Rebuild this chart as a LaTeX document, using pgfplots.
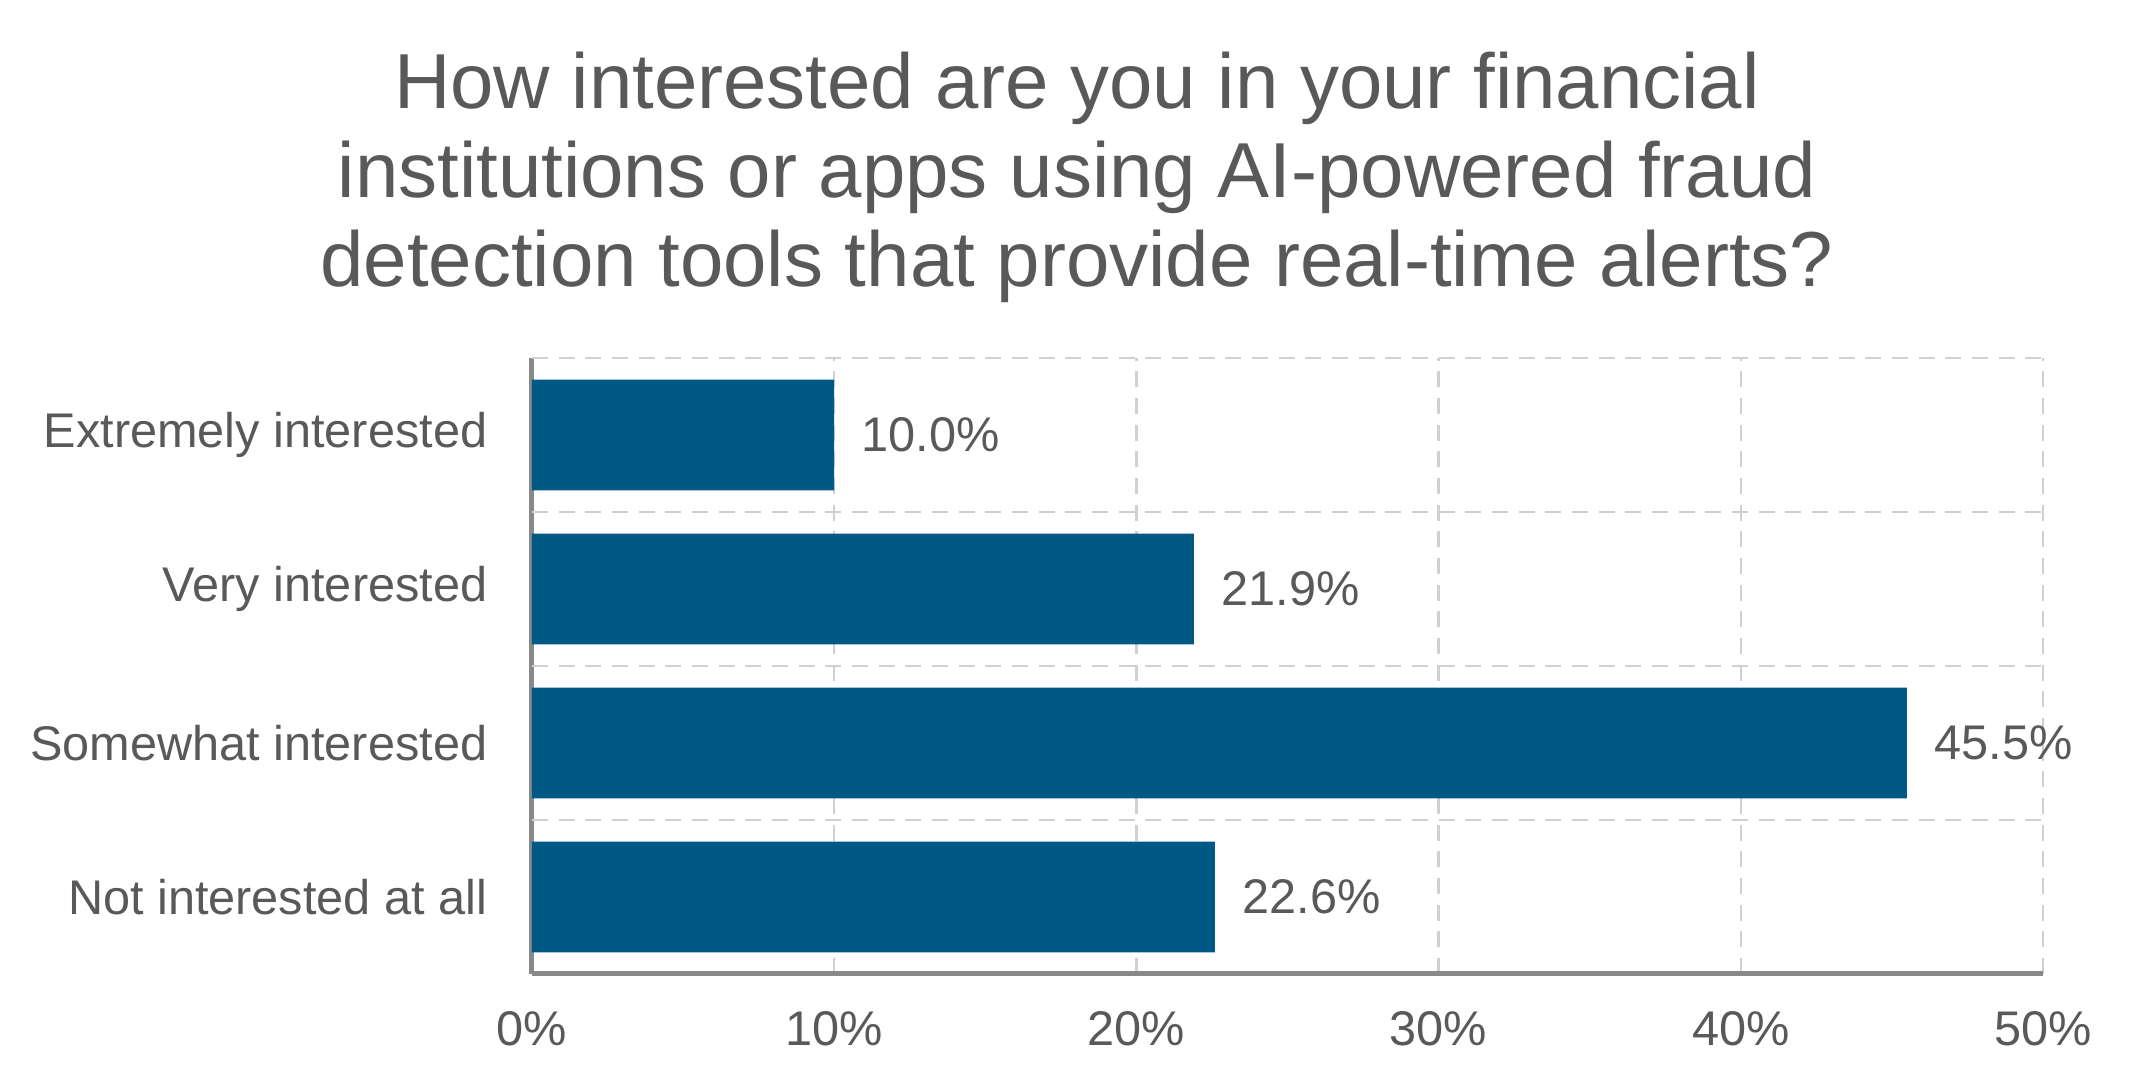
\documentclass[border=0pt]{standalone}
\usepackage{fontspec}
\setmainfont{Liberation Sans}
\usepackage{pgfplots}
\pgfplotsset{compat=1.18}
\definecolor{barblue}{RGB}{0,89,132}
\definecolor{txt}{RGB}{89,89,89}
\definecolor{axgray}{RGB}{137,137,137}
\definecolor{gridgray}{RGB}{208,208,208}
\begin{document}
\begin{tikzpicture}
\path[use as bounding box] (-159.6pt,-34.5pt) rectangle (483.9pt,292.2pt);
\begin{axis}[
  scale only axis, width=453.3pt, height=184.8pt,
  xbar, bar width=0.72,
  xmin=0, xmax=50, ymin=-0.5, ymax=3.5,
  axis x line*=bottom, axis y line*=left,
  xtick={0,10,20,30,40,50},
  xticklabel={\pgfmathprintnumber{\tick}\%},
  major tick length=0,
  ytick={0,1,2,3},
  yticklabels={Not interested at all, Somewhat interested, Very interested, Extremely interested},
  extra y ticks={0.5,1.5,2.5,3.5},
  extra y tick labels={},
  extra y tick style={grid=major, major tick length=0},
  xmajorgrids,
  grid style={draw=gridgray, line width=0.75pt, dash pattern=on 4.8pt off 3.2pt},
  axis line style={draw=axgray, line width=1.5pt, -},
  tick label style={font=\fontsize{14.6}{17}\selectfont, text=txt},
  xticklabel style={anchor=center, yshift=-16.5pt},
  yticklabel style={anchor=east, inner sep=0pt, xshift=-13.2pt},
  /pgf/number format/assume math mode=true,
  point meta=x,
  nodes near coords={\pgfmathprintnumber[fixed,fixed zerofill,precision=1]{\pgfplotspointmeta}\%},
  nodes near coords style={anchor=west, inner sep=0pt, xshift=8.1pt, font=\fontsize{14.6}{17}\selectfont, text=txt},
]
\addplot[draw=none, fill=barblue, bar shift=0pt] coordinates {(22.6,0) (45.5,1) (21.9,2) (10.0,3)};
\end{axis}
\node[align=center, text=txt, font=\fontsize{23.4}{26.7}\selectfont] at (163.5pt,238.9pt) {How interested are you in your financial\\institutions or apps using AI-powered fraud\\detection tools that provide real-time alerts?};
\end{tikzpicture}
\end{document}
